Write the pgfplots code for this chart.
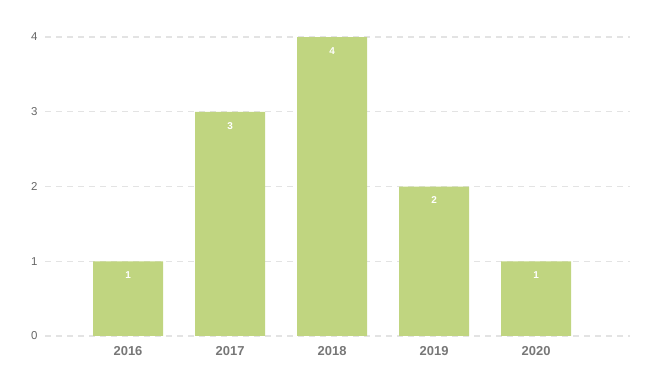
\documentclass[border=0pt]{standalone}
\usepackage{pgfplots}
\pgfplotsset{compat=1.18}
\usepackage{fontspec}
\setmainfont{Liberation Sans}
\definecolor{barc}{HTML}{C0D580}
\definecolor{gridc}{HTML}{E3E3E3}
\definecolor{ytxt}{HTML}{666666}
\definecolor{xtxt}{HTML}{777777}
\begin{document}
\begin{tikzpicture}
\path[use as bounding box] (0,0) rectangle (655bp,375bp);
\begin{axis}[
  at={(45bp,39bp)}, anchor=south west,
  scale only axis, width=585bp, height=299bp,
  xmin=-0.814, xmax=4.92, ymin=0, ymax=4,
  /pgf/number format/assume math mode=true,
  ybar, bar width=70bp, bar shift=0pt,
  xtick={0,1,2,3,4}, xticklabels={2016,2017,2018,2019,2020},
  ytick={0,1,2,3,4},
  xmajorgrids=false, ymajorgrids=true,
  y grid style={draw=gridc, line width=1.3pt, dash pattern=on 6bp off 5bp},
  tick style={draw=none},
  yticklabel style={font=\fontsize{11.5}{13}\selectfont, text=ytxt, xshift=-4bp},
  xticklabel style={font=\fontsize{13}{15}\selectfont\bfseries, text=xtxt, yshift=-3bp},
  axis line style={draw=none},
  nodes near coords,
  every node near coord/.append style={font=\fontsize{10}{12}\selectfont\bfseries, text=white, anchor=north, yshift=-7bp},
  clip=false,
]
\addplot[fill=barc, draw=none] coordinates {(0,1) (1,3) (2,4) (3,2) (4,1)};
\end{axis}
\end{tikzpicture}
\end{document}
